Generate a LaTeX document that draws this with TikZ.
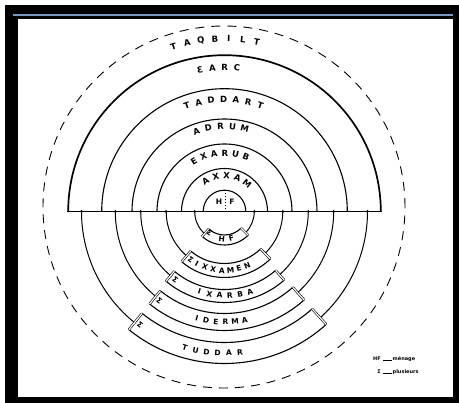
\documentclass[tikz,border=0pt]{standalone}
\usepackage{fontspec}
\setmainfont{DejaVu Sans}
\definecolor{framblue}{RGB}{120,150,190}
\newcommand\toplabel[6]{%
  \foreach \ch [count=\i] in {#6} {%
    \pgfmathsetmacro\ang{#3+((#5+1)/2-\i)*#4}
    \node[lab, rotate=\ang-90] (#1-\i) at (\ang:#2) {\ch};
  }}
\newcommand\botlabel[6]{%
  \foreach \ch [count=\i] in {#6} {%
    \pgfmathsetmacro\ang{#3-((#5+1)/2-\i)*#4}
    \node[blab, rotate=\ang+90] (#1-\i) at (\ang:#2) {\ch};
  }}
\begin{document}
\begin{tikzpicture}[x=1pt,y=1pt,
  lab/.style={inner sep=0pt, font=\fontsize{8.5}{8.5}\selectfont\bfseries},
  blab/.style={inner sep=0pt, font=\fontsize{7.5}{7.5}\selectfont\bfseries},
  semi/.style={line width=1.1pt},
  outersemi/.style={line width=1.7pt},
  lowarc/.style={line width=1pt},
  boxline/.style={line width=1.1pt, line join=round},
  sideline/.style={line width=0.6pt, double=white, double distance=1.2pt},
  junction/.style={circle, fill=black, inner sep=0pt, minimum size=3pt},
  legend/.style={inner sep=0.5pt, font=\fontsize{5}{5}\selectfont\bfseries}
]
% frame
\fill[white] (-224.5,-191.5) rectangle (234.5,211.5);
\fill[black] (-219.5,-191.5) rectangle (234.5,206.5);
\fill[white] (-206.5,-185.5) rectangle (228.5,192.5);
\draw[framblue, line width=1.6pt] (-211.5,196.5) -- (228.5,196.5);
\useasboundingbox (-224.5,-191.5) rectangle (234.5,211.5);

% dashed outer circle
\draw[dash pattern=on 9pt off 7pt, line width=0.9pt] (-0.5,4.5) circle[radius=181];

% upper semicircles
\foreach \r in {21.3,43,67.5,92.5,122.8}
  \draw[semi] (\r,0) arc[start angle=0, end angle=180, radius=\r];
\draw[outersemi] (156.3,0) arc[start angle=0, end angle=180, radius=156.3];
\draw[line width=1.5pt] (-157.1,0) -- (157.1,0);
\draw[dotted, line width=1pt] (1.2,21.3) -- (1.2,0);
\node[blab] (h-top) at (-5.5,9.5) {H};
\node[blab] (f-top) at (7.5,9.5) {F};

% lower rings with boxes
\foreach \ri/\ro/\aa/\ab/\rc in {23.5/33.5/228/315/29.8, 52/66/229.5/314/58.3, 78/91/230/311/83.8, 102/119/231/312/109.2, 131/152/231/312/143} {
  \draw[lowarc] (180:\rc) arc[start angle=180, end angle=\aa, radius=\rc];
  \draw[lowarc] (\ab:\rc) arc[start angle=\ab, end angle=360, radius=\rc];
  \draw[boxline] (\aa:\ri) arc[start angle=\aa, end angle=\ab, radius=\ri]
     -- (\ab:\ro) arc[start angle=\ab, end angle=\aa, radius=\ro] -- cycle;
  \draw[sideline] (\aa:\ri) -- (\aa:\ro);
  \draw[sideline] (\ab:\ri) -- (\ab:\ro);
  \node[junction] at (180:\rc) {};
  \node[junction] at (0:\rc) {};
}

% upper labels
\toplabel{taqbilt}{173}{93.2}{4.65}{7}{T,A,Q,B,I,L,T}
\toplabel{earc}{144}{92.4}{4.9}{4}{Ɛ,A,R,C}
\toplabel{taddart}{112}{90.5}{6.4}{7}{T,A,D,D,A,R,T}
\toplabel{adrum}{85}{92.7}{8.25}{5}{A,D,R,U,M}
\toplabel{exarub}{58.5}{95}{10.6}{6}{E,X,A,R,U,B}
\toplabel{axxam}{36}{86.5}{17.6}{5}{A,X,X,A,M}

% lower labels
\botlabel{hf}{27.5}{274.5}{20.5}{2}{H,F}
\node[blab, rotate=324.7] (sig-hf) at (234.7:26) {Σ};
\botlabel{ixxamen}{59}{267.4}{8.4}{7}{I,X,X,A,M,E,N}
\node[blab, rotate=325.1] (sig-ixxamen) at (235.1:59) {Σ};
\botlabel{ixarba}{84}{270.2}{7}{6}{I,X,A,R,B,A}
\node[blab, rotate=324.4] (sig-ixarba) at (234.4:84.5) {Σ};
\botlabel{iderma}{110.5}{268}{5.0}{6}{I,D,E,R,M,A}
\node[blab, rotate=323.9] (sig-iderma) at (233.9:110.5) {Σ};
\botlabel{tuddar}{141.5}{265}{4.5}{6}{T,U,D,D,A,R}
\node[blab, rotate=323.3] (sig-tuddar) at (233.3:141.5) {Σ};

% legend
\node[legend, anchor=east] (leg-hf) at (157,-147.5) {HF};
\node[legend, anchor=west] (leg-menage) at (167.5,-147.5) {ménage};
\draw[line width=0.6pt] (leg-hf.east) ++(1.5,-1) coordinate (l1a) -- (leg-menage.west |- l1a);
\node[legend, anchor=east] (leg-sig) at (157,-160.5) {Σ};
\node[legend, anchor=west] (leg-plus) at (167.5,-160.5) {plusieurs};
\draw[line width=0.6pt] (leg-sig.east) ++(1.5,-1) coordinate (l2a) -- (leg-plus.west |- l2a);
\end{tikzpicture}
\end{document}
